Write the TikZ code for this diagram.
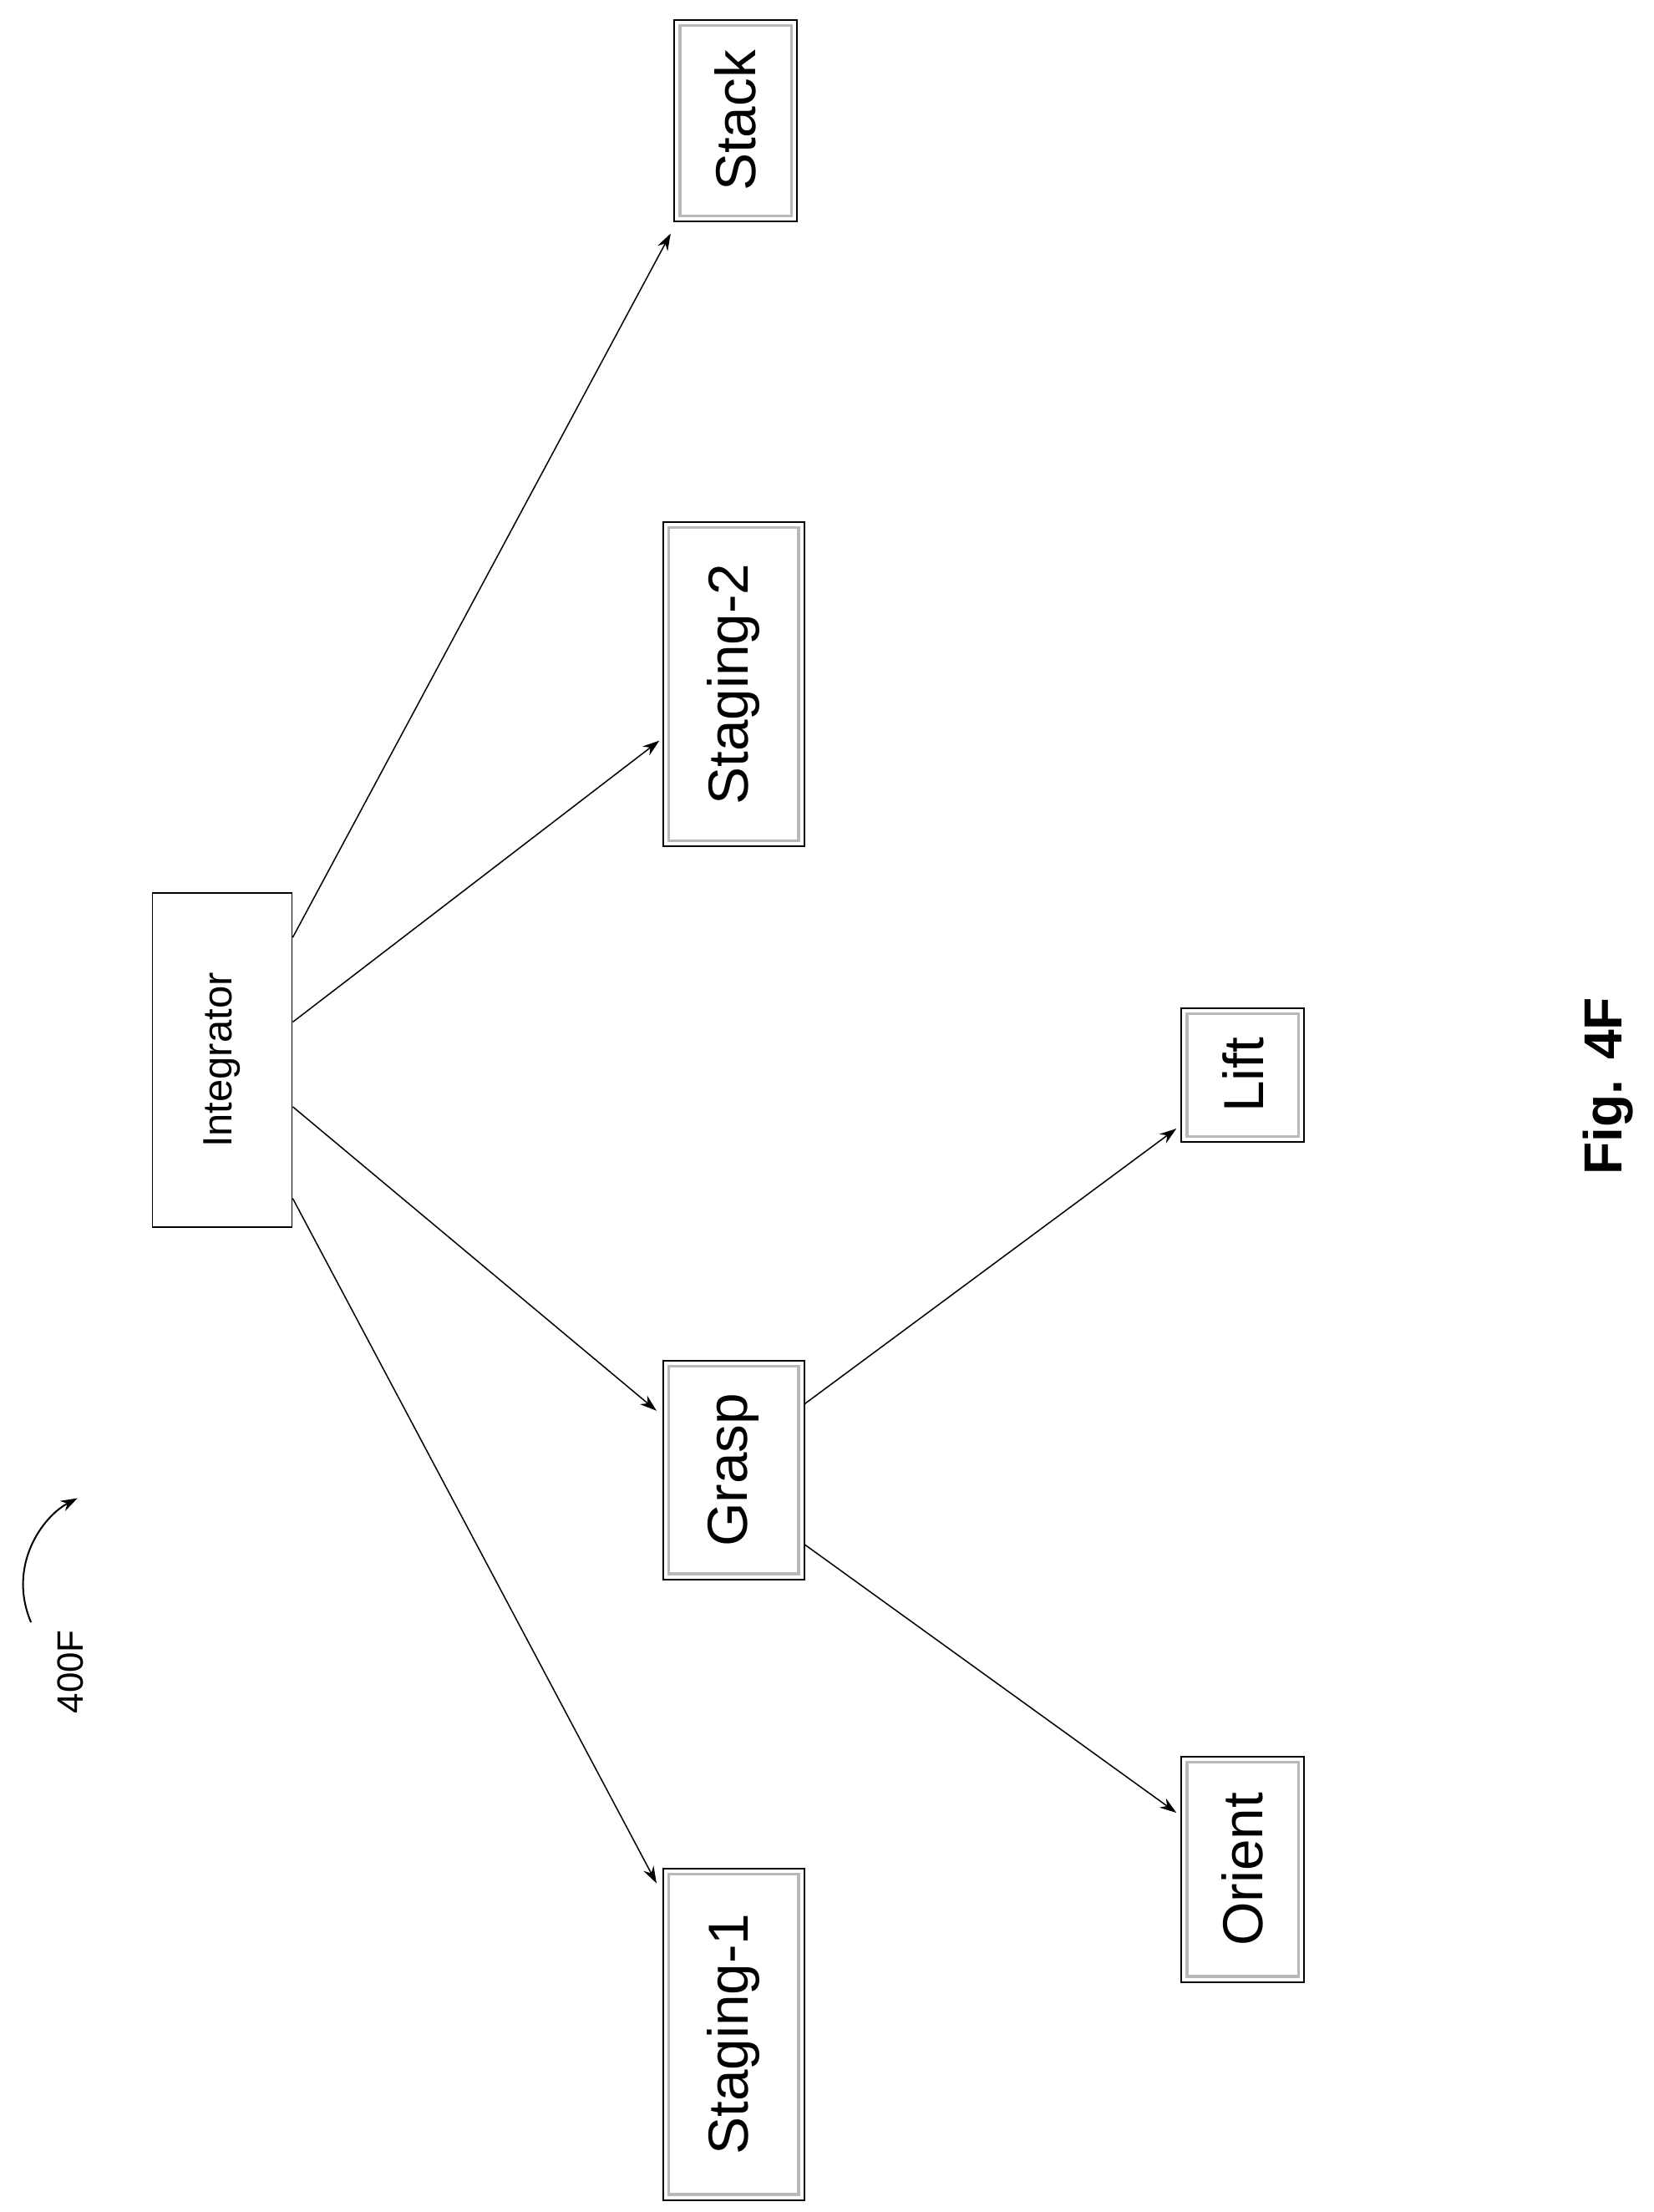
\documentclass[tikz,border=0pt]{standalone}
\usepackage{fontspec}
\setmainfont{Liberation Sans}
\usetikzlibrary{calc,arrows.meta}
\begin{document}
\begin{tikzpicture}[x=1pt,y=-1pt,
  box/.style={draw,line width=1.2pt,inner sep=0pt,fill=white,
    path picture={\draw[gray!55,line width=2pt]
      ([shift={(4pt,-4pt)}]path picture bounding box.north west) rectangle
      ([shift={(-4pt,4pt)}]path picture bounding box.south east);}},
  plain/.style={draw,line width=1pt,inner sep=0pt},
  big/.style={font=\fontsize{40}{48}\selectfont},
  arr/.style={-{Stealth[length=12pt,width=8pt]},line width=0.9pt}]
\useasboundingbox (0,0) rectangle (1172,1568);
\node[plain,minimum width=99,minimum height=237,font=\fontsize{29}{34}\selectfont] (I) at (157.5,751.5) {\rotatebox{90}{Integrator}};
\node[box,big,minimum width=87,minimum height=143] (St) at (521.5,85.5) {\rotatebox{90}{Stack}};
\node[box,big,minimum width=100,minimum height=230] (S2) at (520,485) {\rotatebox{90}{Staging-2}};
\node[box,big,minimum width=100,minimum height=155] (G) at (520,1042) {\rotatebox{90}{Grasp}};
\node[box,big,minimum width=100,minimum height=235] (S1) at (520,1442) {\rotatebox{90}{Staging-1}};
\node[box,big,minimum width=87,minimum height=95] (L) at (881,762) {\rotatebox{90}{Lift}};
\node[box,big,minimum width=87,minimum height=160] (O) at (881,1325) {\rotatebox{90}{Orient}};
\draw[arr] ($(I.east)+(0,-87)$) -- ($(St.west)+(-2,80)$);
\draw[arr] ($(I.east)+(0,-27)$) -- ($(S2.west)+(-2,40)$);
\draw[arr] ($(I.east)+(0,33)$) -- ($(G.west)+(-4,-42)$);
\draw[arr] ($(I.east)+(0,98)$) -- ($(S1.west)+(-4,-107)$);
\draw[arr] ($(G.east)+(0,-47)$) -- ($(L.west)+(-3,38)$);
\draw[arr] ($(G.east)+(0,53)$) -- ($(O.west)+(-3,-40)$);
\node[font=\fontsize{26}{30}\selectfont] (lbl) at (50,1185) {\rotatebox{90}{400F}};
\coordinate (a1) at (22,1150);
\coordinate (a2) at (55,1062);
\draw[arr,line width=1.2pt] (a1) .. controls (5,1110) and (30,1075) .. (a2);
\node[font=\bfseries\fontsize{38}{44}\selectfont] (fig) at (1140,770) {\rotatebox{90}{Fig. 4F}};
\end{tikzpicture}
\end{document}
